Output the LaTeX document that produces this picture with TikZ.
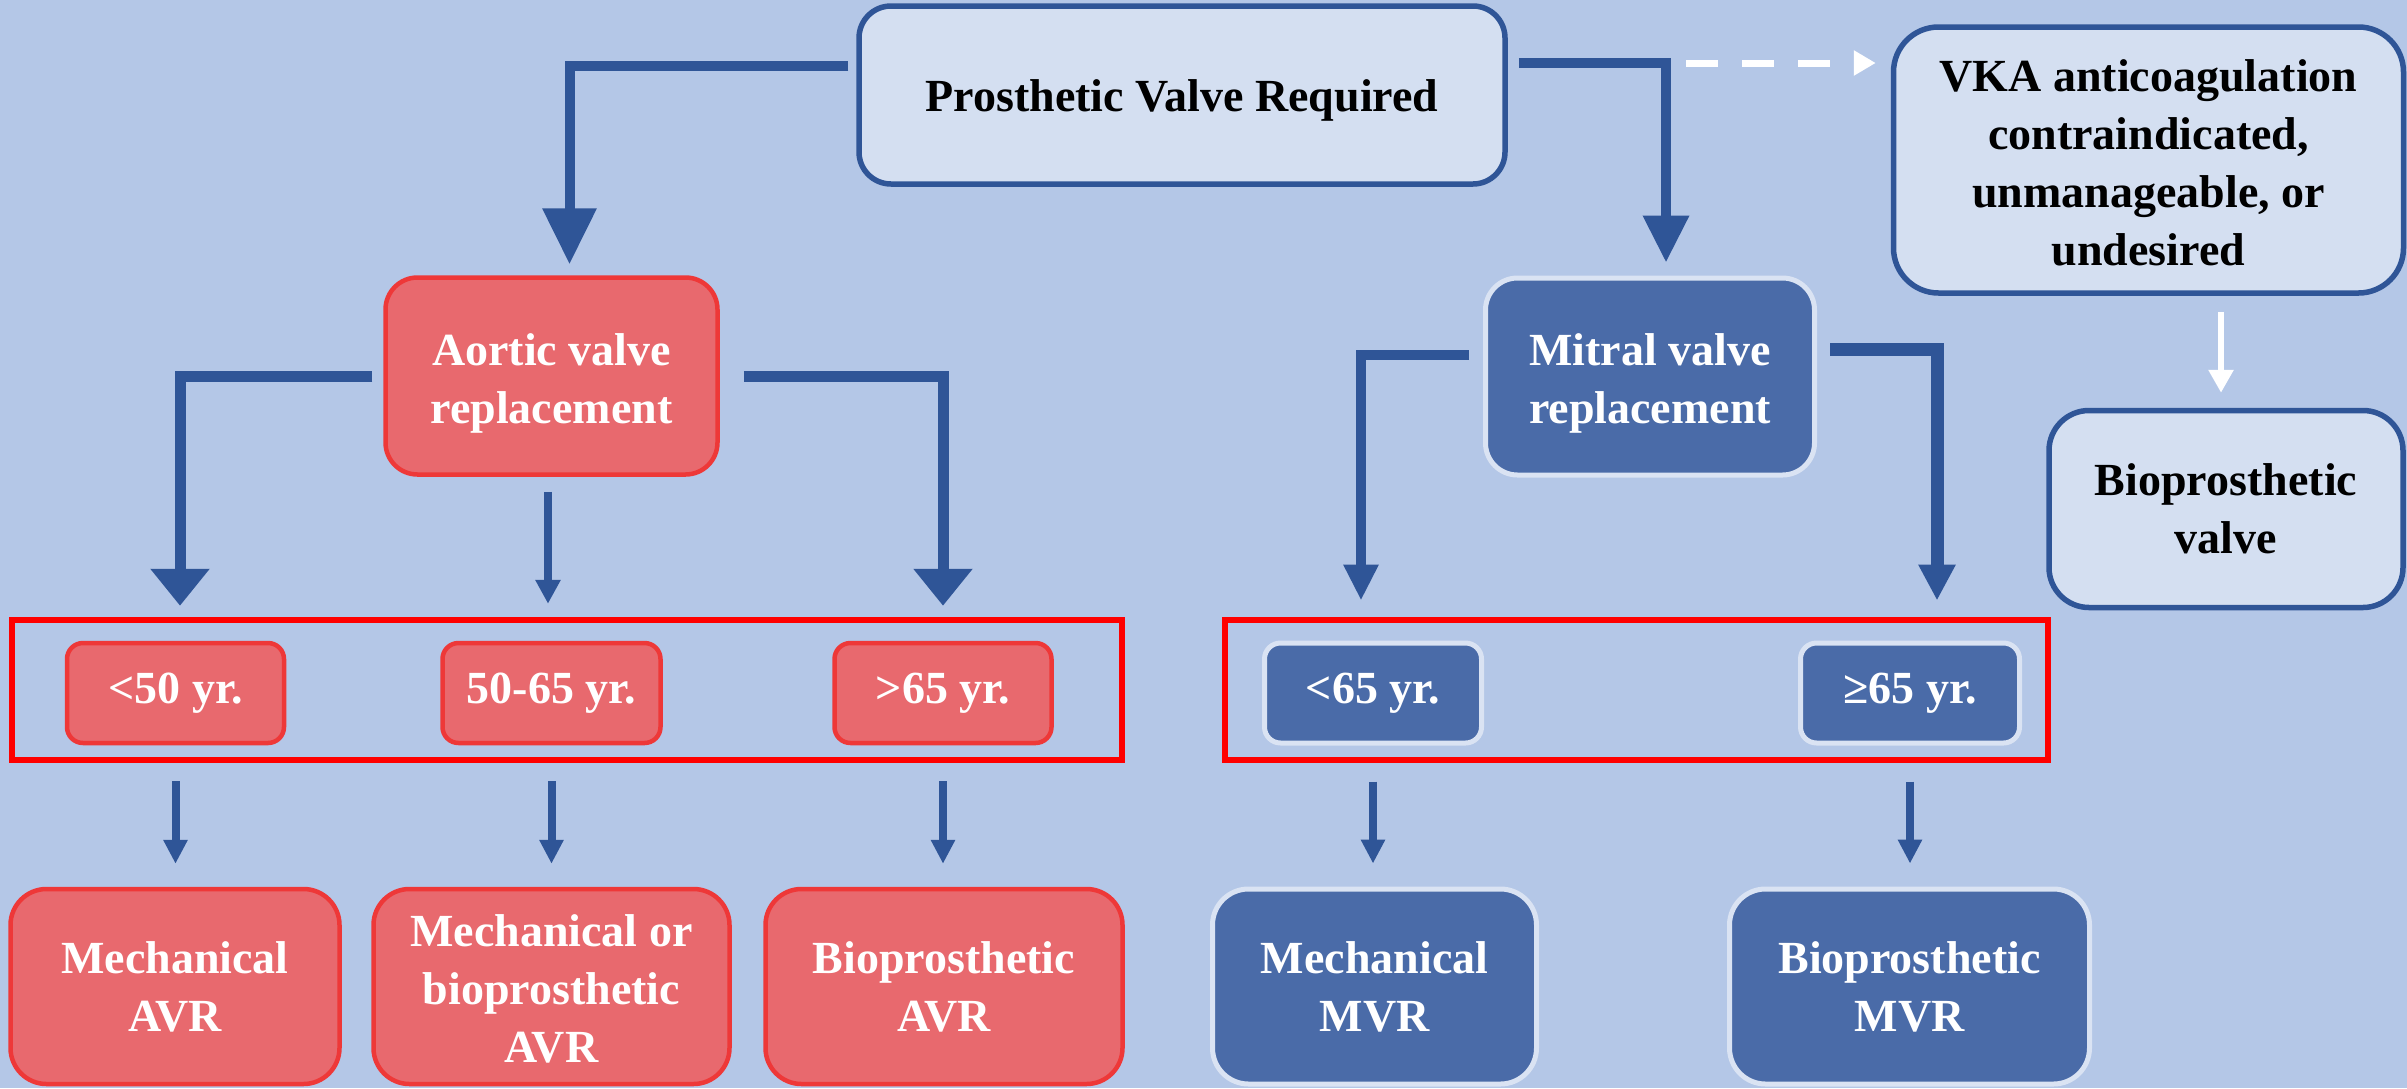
\documentclass[tikz,border=0pt]{standalone}
\usepackage{fontspec}
\setmainfont{Liberation Serif}
\usetikzlibrary{arrows.meta}
\definecolor{bgblue}{HTML}{B4C7E7}
\definecolor{lightfill}{HTML}{D4DFF1}
\definecolor{navy}{HTML}{2F5597}
\definecolor{bluefill}{HTML}{4A6BA8}
\definecolor{paleline}{HTML}{DAE3F3}
\definecolor{redfill}{HTML}{E8696E}
\definecolor{redline}{HTML}{EE3838}
\definecolor{framered}{HTML}{FF0000}
% a taller first line sets the text a little lower in its box
\newcommand\droptext[1]{\rule{0pt}{#1}}
\begin{document}
\begin{tikzpicture}[x=1pt,y=-1pt,
  basebox/.style={align=center, inner sep=0pt, font=\fontsize{46}{58}\selectfont\bfseries},
  lightbox/.style={basebox, draw=navy, line width=5.5pt, fill=lightfill, text=black},
  redbox/.style={basebox, draw=redline, line width=4.5pt, fill=redfill, text=white},
  bluebox/.style={basebox, draw=paleline, line width=5pt, fill=bluefill, text=white},
  agebox/.style={rounded corners=16pt, minimum height=100pt},
  outbox/.style={rounded corners=36pt, minimum height=195pt},
  agegroup/.style={draw=framered, line width=6pt, inner sep=0pt},
  flow/.style={draw=navy, line join=miter},
  whiteflow/.style={draw=white}
]
% page and background
\useasboundingbox (0,0) rectangle (2407,1088);
\fill[bgblue] (0,0) rectangle (2407,1088);

% top level
\node[lightbox, rounded corners=32pt, minimum width=646pt, minimum height=178pt] (pvr) at (1182,95) {\droptext{43.5pt}Prosthetic Valve Required};
\node[lightbox, rounded corners=45pt, minimum width=510pt, minimum height=266pt] (vka) at (2148.5,160)
  {\droptext{37.5pt}VKA anticoagulation\\contraindicated,\\unmanageable, or\\undesired};
\node[lightbox, rounded corners=40pt, minimum width=354pt, minimum height=197pt] (bio) at (2226,509) {Bioprosthetic\\valve};

% valve position
\node[redbox, rounded corners=32pt, minimum width=332pt, minimum height=197pt] (avr) at (551.5,376) {\droptext{46pt}Aortic valve\\replacement};
\node[bluebox, rounded corners=32pt, minimum width=329pt, minimum height=197pt] (mvr) at (1650,376.5) {\droptext{46pt}Mitral valve\\replacement};

% age groups
\node[agegroup, minimum width=1110pt, minimum height=140pt] (agesA) at (567,690) {};
\node[agegroup, minimum width=823pt, minimum height=140pt] (agesM) at (1636.5,690) {};

\node[redbox, agebox, minimum width=217pt] (a1) at (175.5,693) {<50 yr.};
\node[redbox, agebox, minimum width=218pt] (a2) at (551.5,693) {50-65 yr.};
\node[redbox, agebox, minimum width=217pt] (a3) at (943,693) {>65 yr.};
\node[bluebox, agebox, minimum width=217pt] (m1) at (1373,693) {<65 yr.};
\node[bluebox, agebox, minimum width=219pt] (m2) at (1910,693) {≥65 yr.};

% outcomes
\node[redbox, outbox, minimum width=329pt] (o1) at (175,986.5) {Mechanical\\AVR};
\node[redbox, outbox, minimum width=356pt] (o2) at (551.5,986.5) {\droptext{37.5pt}Mechanical or\\bioprosthetic\\AVR};
\node[redbox, outbox, minimum width=357pt] (o3) at (944,986.5) {Bioprosthetic\\AVR};
\node[bluebox, outbox, minimum width=324pt] (o4) at (1374.5,986.5) {Mechanical\\MVR};
\node[bluebox, outbox, minimum width=360pt] (o5) at (1909.5,986.5) {Bioprosthetic\\MVR};

% connectors from the top box
\draw[flow, line width=10pt, -{Triangle[length=56pt,width=52pt]}, shorten <=8pt, shorten >=11pt]
  ([yshift=29pt]pvr.west) -| ([xshift=18pt]avr.north);
\draw[flow, line width=10pt, -{Triangle[length=47pt,width=44pt]}, shorten <=11pt, shorten >=13pt]
  ([yshift=32pt]pvr.east) -| ([xshift=16pt]mvr.north);
\coordinate (dstart) at ([xshift=178pt,yshift=32pt]pvr.east);
\draw[whiteflow, line width=7pt, dash pattern=on 32pt off 24pt, -{Triangle[length=22pt,width=24pt]}, shorten >=15pt]
  (dstart) -- (dstart -| vka.west);
\draw[whiteflow, line width=6pt, -{Triangle[length=23pt,width=24pt]}, shorten <=16pt, shorten >=15pt]
  ([xshift=-5pt]bio.north |- vka.south) -- ([xshift=-5pt]bio.north);

% aortic branches
\draw[flow, line width=11pt, -{Triangle[length=37pt,width=57pt]}, shorten <=11pt, shorten >=35pt]
  (avr.west) -| ([xshift=4.5pt]a1.north);
\draw[flow, line width=11pt, -{Triangle[length=37pt,width=57pt]}, shorten <=24pt, shorten >=35pt]
  (avr.east) -| (a3.north);
\draw[flow, line width=8pt, -{Triangle[length=24pt,width=24pt]}, shorten <=15pt, shorten >=37pt]
  ([xshift=-3.5pt]avr.south) -- ([xshift=-3.5pt]a2.north);

% mitral branches
\draw[flow, line width=10pt, -{Triangle[length=36pt,width=33pt]}, shorten <=14pt, shorten >=40pt]
  ([yshift=21.5pt]mvr.west) -| ([xshift=-12pt]m1.north);
\draw[flow, line width=13pt, -{Triangle[length=36pt,width=35pt]}, shorten <=13pt, shorten >=40pt]
  ([yshift=27.5pt]mvr.east) -| ([xshift=27pt]m2.north);

% age group to outcome
\foreach \s/\t in {a1/o1, a2/o2, a3/o3, m1/o4, m2/o5}
  \draw[flow, line width=8pt, -{Triangle[length=24pt,width=23pt]}, shorten <=36pt, shorten >=23pt]
    (\s.south) -- (\s.south |- \t.north);
\end{tikzpicture}
\end{document}
